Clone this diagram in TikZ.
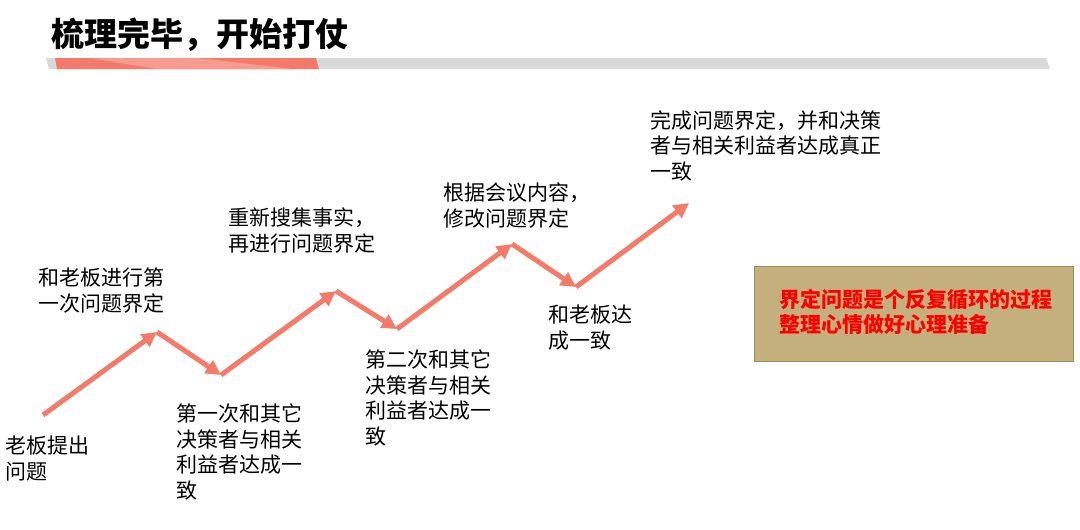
\documentclass[tikz,border=0pt]{standalone}
\usepackage{fontspec}
\newfontfamily\cjk{Noto Sans CJK SC}
\usetikzlibrary{arrows.meta}
\definecolor{arrowred}{HTML}{F47A6A}
\definecolor{barred}{HTML}{F47A6A}
\definecolor{barlight}{HTML}{F89A8E}
\definecolor{bargray}{HTML}{D9D9D9}
\definecolor{boxfill}{HTML}{C4B07C}
\definecolor{boxline}{HTML}{9C8C5C}
\definecolor{txtred}{HTML}{FF0000}
\tikzset{
  lbl/.style={anchor=north west,inner sep=0pt,align=left,font=\cjk\fontsize{21}{25.5}\selectfont,text=black},
  zig/.style={draw=arrowred,line width=5pt,-{Triangle[length=15pt,width=15pt]}},
}
\begin{document}
\begin{tikzpicture}[x=1pt,y=-1pt]
\useasboundingbox (0,0) rectangle (1080,530);
% title
\node[anchor=north west,inner sep=0pt,font=\cjk\bfseries\fontsize{33}{36}\selectfont] (title) at (51,18) {梳理完毕，开始打仗};
% bar
\fill[bargray] (46,58) -- (1046,58) -- (1050,69) -- (49,69) -- cycle;
\fill[barred] (55,58) -- (316,58) -- (319,69) -- (57,69) -- cycle;
\fill[barlight] (90,58) -- (197,58) -- (293,69) -- (157,69) -- cycle;
% zigzag points
\coordinate (p0) at (43,415);
\coordinate (p1) at (157,332);
\coordinate (p2) at (221,375);
\coordinate (p3) at (336,291);
\coordinate (p4) at (397,329);
\coordinate (p5) at (512,244);
\coordinate (p6) at (576,287);
\coordinate (p7) at (689,203);
\draw[zig] (p0) -- (p1);
\draw[zig] (p1) -- (p2);
\draw[zig] (p2) -- (p3);
\draw[zig] (p3) -- (p4);
\draw[zig] (p4) -- (p5);
\draw[zig] (p5) -- (p6);
\draw[zig] (p6) -- (p7);
% labels
\node[lbl] (l0) at (5,436) {老板提出\\问题};
\node[lbl] (l1) at (38,268) {和老板进行第\\一次问题界定};
\node[lbl] (l2) at (176,404) {第一次和其它\\决策者与相关\\利益者达成一\\致};
\node[lbl] (l3) at (228,208) {重新搜集事实，\\再进行问题界定};
\node[lbl] (l4) at (365,350) {第二次和其它\\决策者与相关\\利益者达成一\\致};
\node[lbl] (l5) at (443,183) {根据会议内容，\\修改问题界定};
\node[lbl] (l6) at (548,305) {和老板达\\成一致};
\node[lbl] (l7) at (650,110) {完成问题界定，并和决策\\者与相关利益者达成真正\\一致};
% box
\node[draw=boxline,fill=boxfill,line width=1.2pt,minimum width=319pt,minimum height=95pt,anchor=north west,inner sep=0pt] (box) at (754,266) {};
\node[anchor=west,inner sep=0pt,align=left,font=\cjk\bfseries\fontsize{21}{25}\selectfont,text=txtred] (boxtxt) at (779,312) {界定问题是个反复循环的过程\\整理心情做好心理准备};
\end{tikzpicture}
\end{document}
